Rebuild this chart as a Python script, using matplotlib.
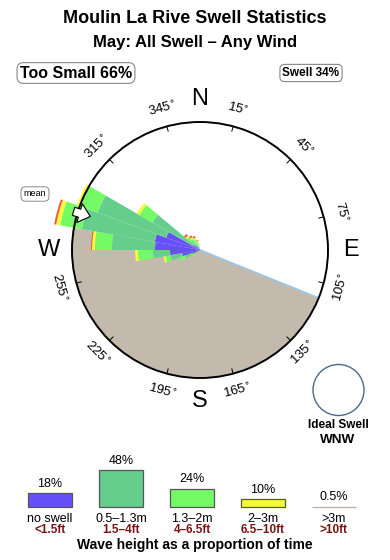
import numpy as np
import matplotlib
matplotlib.use("Agg")
import matplotlib.pyplot as plt
from matplotlib.patches import Circle

plt.rcParams['font.family'] = ['Liberation Sans', 'DejaVu Sans']

# ---------------- data ----------------
title = "Moulin La Rive Swell Statistics"
subtitle = "May: All Swell \u2013 Any Wind"
too_small_label = "Too Small 66%"
swell_label = "Swell 34%"

# rose: direction bins (deg) and stacked band lengths (circle radius = 128 units)
rose_dirs = [235, 245, 255, 265, 275, 285, 295, 305, 315, 325, 335, 345]
rose_noswell = [0, 8, 18, 30, 45, 46, 36, 8, 5, 3, 2, 1]
rose_05_13 = [4, 8, 12, 17, 43, 74, 73, 47, 7, 5, 4, 3]
rose_13_2 = [8, 6, 5, 15, 17, 22, 19, 15, 5, 5, 5, 3]
rose_2_3 = [0, 0, 2, 3, 3, 4, 3, 3, 2, 2, 2, 2]
rose_gt3 = [0, 0, 0, 0, 1, 2, 0, 0, 2, 2, 2, 1]
rose_rmax = 128
mean_dir = 287
land_from, land_to = 112, 280
tick_dirs = [15, 45, 75, 105, 135, 165, 195, 225, 255, 285, 315, 345]
hidden_labels = [285]  # covered by the rose bars in the original
cardinals = ["N", "E", "S", "W"]
cardinal_dirs = [0, 90, 180, 270]

# legend
leg_pct = [18, 48, 24, 10, 0.5]
leg_pct_labels = ["18%", "48%", "24%", "10%", "0.5%"]
leg_m = ["no swell", "0.5\u20131.3m", "1.3\u20132m", "2\u20133m", ">3m"]
leg_ft = ["<1.5ft", "1.5\u20134ft", "4\u20136.5ft", "6.5\u201310ft", ">10ft"]
ideal_swell = "WNW"

# colours
c_blue = "#6650FA"
c_mgreen = "#66CE8C"
c_lgreen = "#74FA64"
c_yellow = "#F6FA3A"
c_red = "#F05A3A"
c_land = "#C4B9AD"
band_colors = [c_blue, c_mgreen, c_lgreen, c_yellow, c_red]
leg_colors = [c_blue, c_mgreen, c_lgreen, c_yellow, "#C0AEA6"]
dark_red = "#7A1414"

# ---------------- figure ----------------
W, H = 390, 560
fig = plt.figure(figsize=(W / 100, H / 100), dpi=100)

def fx(px):
    return px / W

def fy(py):
    return 1 - py / H

fig.text(0.5, fy(18.5), title, ha="center", va="center", fontsize=13, fontweight="bold")
fig.text(0.5, fy(42), subtitle, ha="center", va="center", fontsize=12, fontweight="bold")
fig.text(fx(76), fy(73), too_small_label, ha="center", va="center", fontsize=11.5,
         fontweight="bold",
         bbox=dict(boxstyle="round,pad=0.18,rounding_size=0.4", fc="white", ec="#888888", lw=0.8))
fig.text(fx(311), fy(73), swell_label, ha="center", va="center", fontsize=8.5,
         fontweight="bold",
         bbox=dict(boxstyle="round,pad=0.22,rounding_size=0.4", fc="white", ec="#888888", lw=0.8))

# ---------------- rose ----------------
cx, cy, R = 200, 250, 128
ax = fig.add_axes([fx(cx - R), fy(cy + R), 2 * R / W, 2 * R / H], projection="polar")
ax.set_theta_zero_location("N")
ax.set_theta_direction(-1)
ax.set_ylim(0, rose_rmax)
ax.set_xticks([])
ax.set_yticks([])
ax.grid(False)
ax.spines["polar"].set_linewidth(1.4)
ax.spines["polar"].set_color("black")

# land sector
lw_deg = land_to - land_from
ax.bar(np.deg2rad(land_from + lw_deg / 2), rose_rmax, width=np.deg2rad(lw_deg),
       bottom=0, color=c_land, edgecolor="none", zorder=0.8)
ax.plot([np.deg2rad(land_from)] * 2, [0, rose_rmax], color="#9CC8E8", lw=1.2, zorder=0.85)

# stacked rose bars
theta = np.deg2rad(rose_dirs)
bottom = np.zeros(len(rose_dirs))
for vals, col in zip([rose_noswell, rose_05_13, rose_13_2, rose_2_3, rose_gt3], band_colors):
    vals = np.array(vals, dtype=float)
    ax.bar(theta, vals, width=np.deg2rad(10), bottom=bottom, color=col,
           edgecolor="none", zorder=1, clip_on=False)
    bottom = bottom + vals

# ticks and degree labels
for b in tick_dirs:
    t = np.deg2rad(b)
    ax.plot([t, t], [rose_rmax - 5, rose_rmax], color="black", lw=0.7, clip_on=False, zorder=2)
    if b in hidden_labels:
        continue
    rot = -b if (b < 90 or b > 270) else 180 - b
    ax.text(t, 146, f"{b}" + r"$^{\circ}$", rotation=rot, rotation_mode="anchor",
            ha="center", va="center", fontsize=9.5, clip_on=False, zorder=3)

for lab, b in zip(cardinals, cardinal_dirs):
    ax.text(np.deg2rad(b), 151, lab, ha="center", va="center", fontsize=17, clip_on=False)

# mean arrow
tm = np.deg2rad(mean_dir)
ax.annotate("", xy=(tm, 112), xytext=(tm, 135), xycoords="data",
            arrowprops=dict(arrowstyle="simple,head_length=0.8,head_width=1.4,tail_width=0.6",
                            fc="white", ec="black", lw=0.8),
            annotation_clip=False, zorder=5)
fig.text(fx(35), fy(194), "mean", ha="center", va="center", fontsize=6.5,
         bbox=dict(boxstyle="round,pad=0.3,rounding_size=0.5", fc="white", ec="#888888", lw=0.7))

# ---------------- ideal swell ----------------
axi = fig.add_axes([fx(338.5 - 30), fy(390 + 30), 60 / W, 60 / H])
axi.set_xlim(-30, 30)
axi.set_ylim(-30, 30)
axi.axis("off")
axi.add_patch(Circle((0, 0), 25.5, fc="white", ec="#4A6A8C", lw=1.0))
fig.text(fx(338), fy(424.5), "Ideal Swell", ha="center", va="center", fontsize=8.5, fontweight="bold")
fig.text(fx(338), fy(440), ideal_swell, ha="center", va="center", fontsize=9.7, fontweight="bold")

# ---------------- legend ----------------
axl = fig.add_axes([fx(14.5), fy(507), 355 / W, 40 / H])
axl.set_xlim(-0.5, 4.5)
axl.set_ylim(0, 52)
axl.axis("off")
xs = np.arange(len(leg_pct))
edges = ["#555555"] * 4 + [leg_colors[4]]
axl.bar(xs, leg_pct, width=0.62, color=leg_colors, edgecolor=edges, lw=0.9, clip_on=False)
for i in xs:
    axl.annotate(leg_pct_labels[i], (i, leg_pct[i]), xytext=(0, 2.5), textcoords="offset points",
                 ha="center", va="bottom", fontsize=9, annotation_clip=False)
    axl.annotate(leg_m[i], (i, 0), xytext=(0, -8.5), textcoords="offset points",
                 ha="center", va="center", fontsize=9, annotation_clip=False)
    axl.annotate(leg_ft[i], (i, 0), xytext=(0, -16.8), textcoords="offset points",
                 ha="center", va="center", fontsize=8.5, fontweight="bold",
                 color=dark_red, annotation_clip=False)
fig.text(0.5, fy(545), "Wave height as a proportion of time", ha="center", va="center",
         fontsize=10, fontweight="bold")

fig.savefig("out.png", dpi=100)
